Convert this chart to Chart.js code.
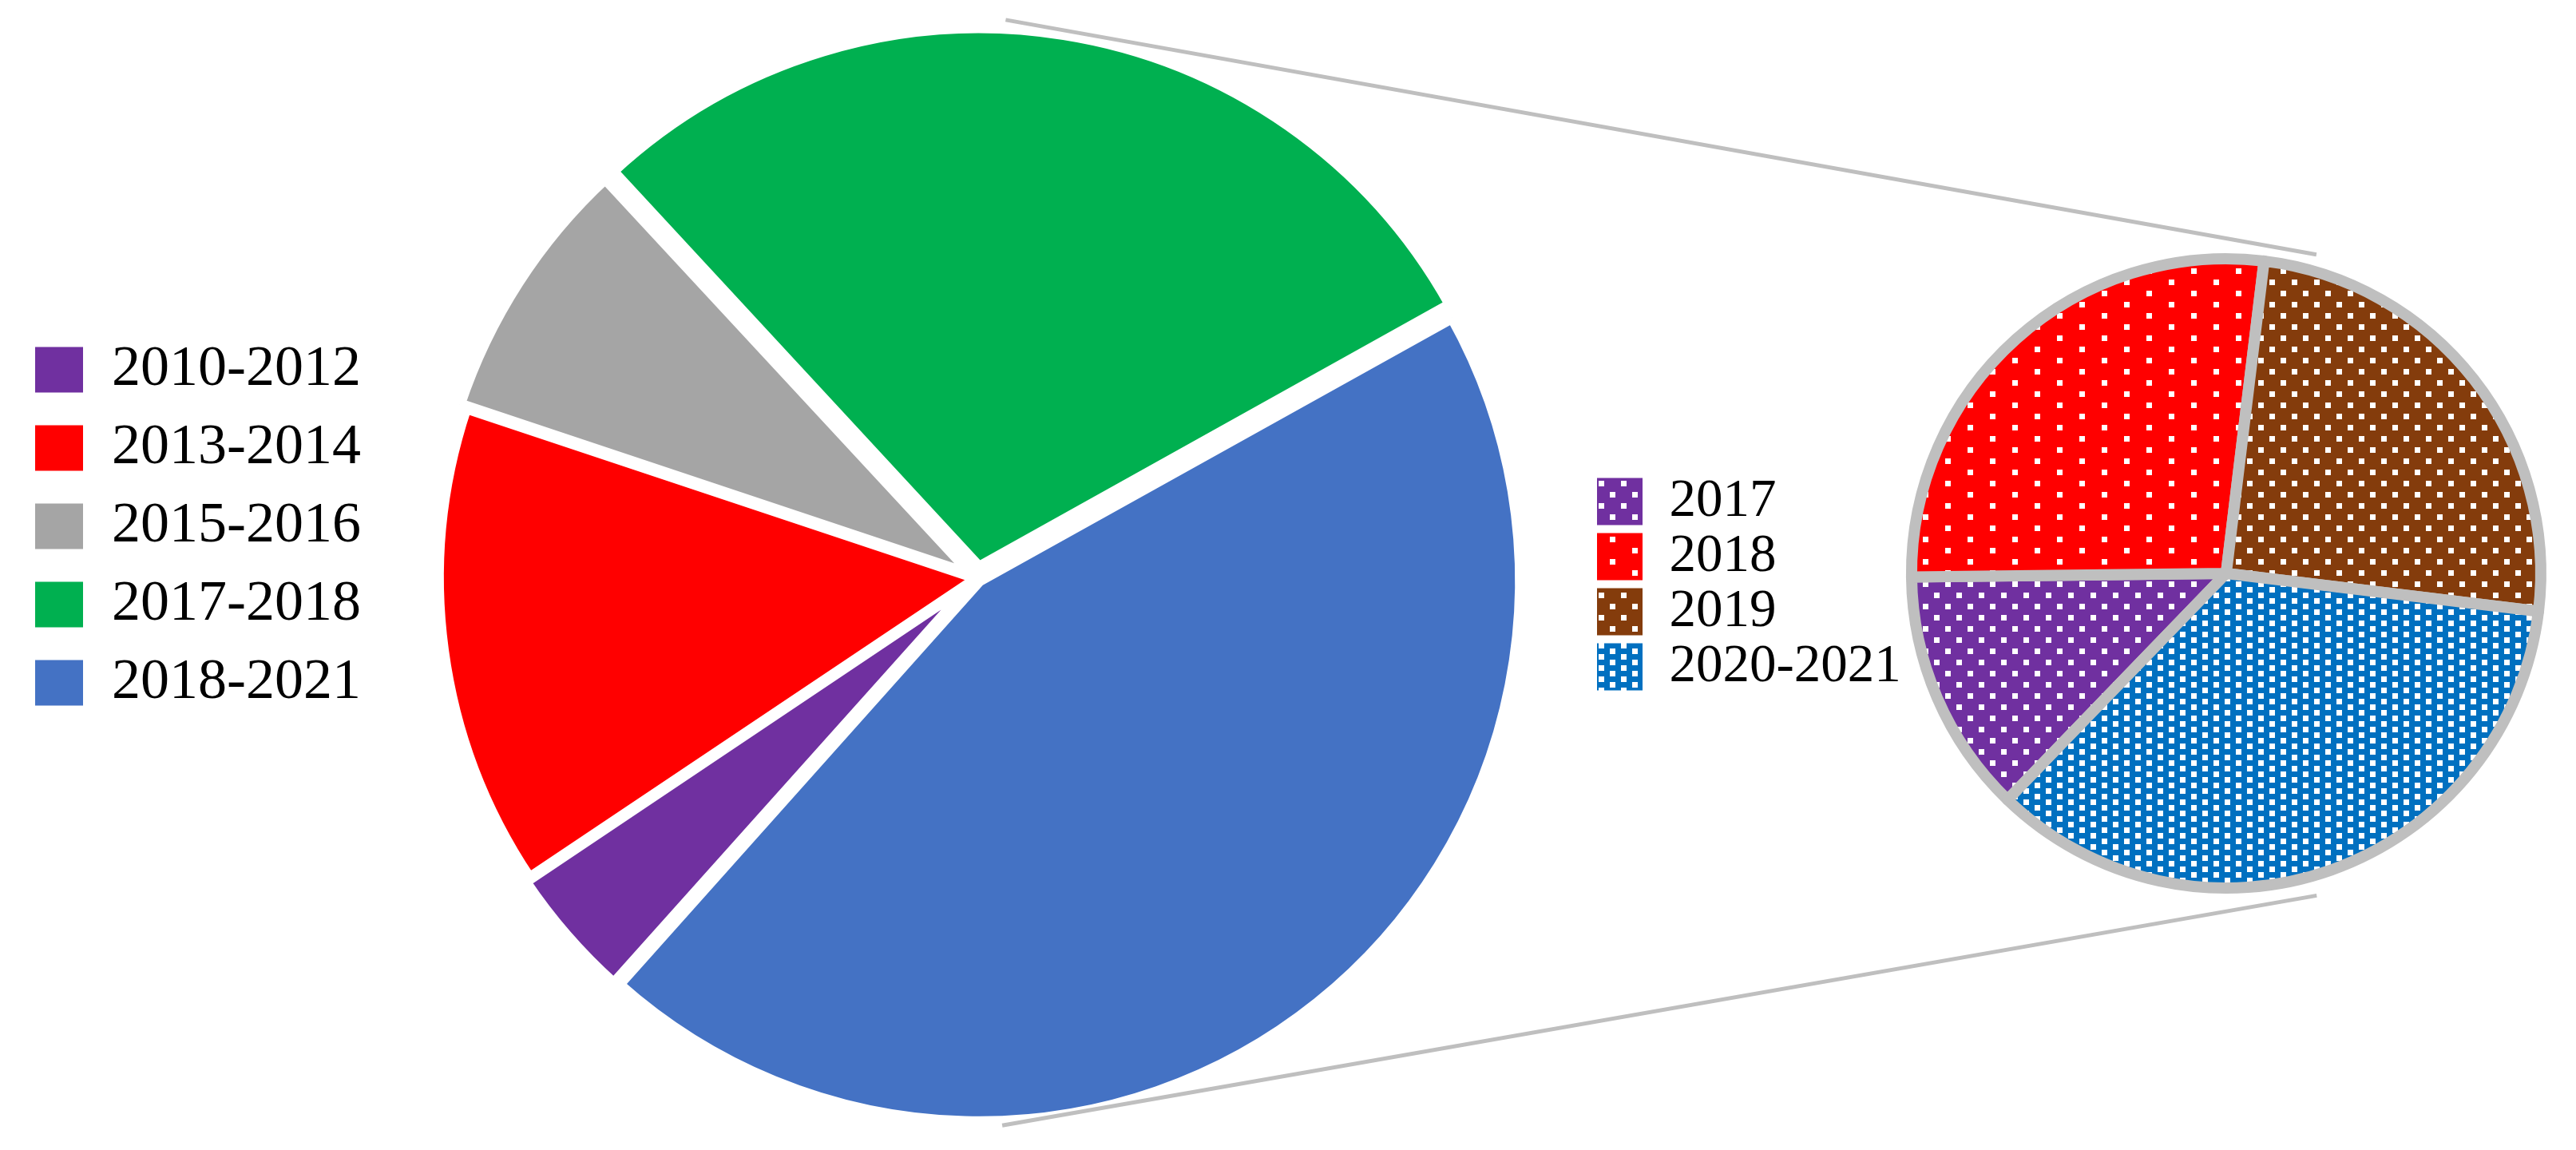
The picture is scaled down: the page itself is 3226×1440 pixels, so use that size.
<!DOCTYPE html>
<html>
<head>
<meta charset="utf-8">
<script src="https://cdn.jsdelivr.net/npm/chart.js@4"></script>
<style>
  html, body { margin: 0; padding: 0; background: #fff; }
  #wrap { position: relative; width: 3226px; height: 1440px; }
  #wrap canvas { position: absolute; left: 0; top: 0; }
</style>
</head>
<body>
<div id="wrap">
  <canvas id="mainPie" width="3226" height="1440"></canvas>
  <canvas id="detailPie" width="3226" height="1440"></canvas>
</div>
<script>
// main pie: periods
const periodLabels = ['2010-2012', '2013-2014', '2015-2016', '2017-2018', '2018-2021'];
const periodValues = [4, 14.5, 8, 28.8, 44.7];
const periodColors = ['#7030A0', '#FF0000', '#A5A5A5', '#00B050', '#4472C4'];
const periodOffsets = [16, 0, 24, 56, 16]; // exploded slices

// detail pie: recent years
const yearLabels = ['2017', '2018', '2019', '2020-2021'];
const yearValues = [12.6, 27.1, 25, 35.3];
const yearColors = ['#7030A0', '#FF0000', '#843C0C', '#0070C0'];

// white dotted fills like the office "dotted" patterns
function dotPattern(color, w, h, dots) {
  const tile = document.createElement('canvas');
  tile.width = w;
  tile.height = h;
  const t = tile.getContext('2d');
  t.fillStyle = color;
  t.fillRect(0, 0, w, h);
  t.fillStyle = '#ffffff';
  dots.forEach(([x, y]) => t.fillRect(x, y, 7, 7));
  return t.createPattern(tile, 'repeat');
}

const yearFills = [
  dotPattern(yearColors[0], 28, 28, [[0, 0], [14, 14]]),
  dotPattern(yearColors[1], 56, 28, [[0, 0], [28, 14]]),
  dotPattern(yearColors[2], 28, 28, [[0, 0], [14, 14]]),
  dotPattern(yearColors[3], 28, 14, [[0, 0], [14, 7]])
];

// legend boxes without the slice border
function legendItems(chart) {
  const ds = chart.data.datasets[0];
  return chart.data.labels.map((text, i) => ({
    text: text,
    fillStyle: ds.backgroundColor[i],
    strokeStyle: 'rgba(0,0,0,0)',
    lineWidth: 0,
    fontColor: '#000',
    hidden: false,
    index: i
  }));
}

const mainChart = new Chart(document.getElementById('mainPie'), {
  type: 'pie',
  data: {
    labels: periodLabels,
    datasets: [{
      data: periodValues,
      backgroundColor: periodColors,
      borderColor: '#ffffff',
      borderWidth: 14,
      offset: periodOffsets,
      rotation: 221.8,
      radius: 675
    }]
  },
  options: {
    responsive: false,
    animation: false,
    events: [],
    layout: { padding: { left: 18, right: 1240, top: 8, bottom: 0 } },
    plugins: {
      tooltip: { enabled: false },
      legend: {
        position: 'left',
        align: 'start',
        title: { display: true, text: '', padding: { top: 392, bottom: 0 }, font: { size: 1, lineHeight: 1 } },
        labels: {
          boxWidth: 60,
          boxHeight: 57,
          padding: 26,
          color: '#000',
          font: { family: 'Liberation Serif', size: 72 },
          generateLabels: legendItems
        }
      }
    }
  }
});

// grey lines joining the two pies
const connectorLines = {
  id: 'connectorLines',
  afterDraw(chart) {
    const big = mainChart.getDatasetMeta(0).data[0];
    const small = chart.getDatasetMeta(0).data[0];
    const at = (arc, deg, extra) => {
      const a = deg * Math.PI / 180;
      const r = arc.outerRadius + extra;
      return [arc.x + r * Math.sin(a), arc.y - r * Math.cos(a)];
    };
    const ctx = chart.ctx;
    ctx.save();
    ctx.strokeStyle = '#BFBFBF';
    ctx.lineWidth = 5;
    [[at(big, 2.9, 25), at(small, 15.8, 21)], [at(big, 177.4, 11), at(small, 164.3, 25)]].forEach(([a, b]) => {
      ctx.beginPath();
      ctx.moveTo(a[0], a[1]);
      ctx.lineTo(b[0], b[1]);
      ctx.stroke();
    });
    ctx.restore();
  }
};

const detailChart = new Chart(document.getElementById('detailPie'), {
  type: 'pie',
  data: {
    labels: yearLabels,
    datasets: [{
      data: yearValues,
      backgroundColor: yearFills,
      borderColor: '#BFBFBF',
      borderWidth: 14,
      borderJoinStyle: 'round',
      rotation: 224,
      radius: 394
    }]
  },
  options: {
    responsive: false,
    animation: false,
    events: [],
    layout: { padding: { left: 1998, right: 41, top: 0, bottom: 4 } },
    plugins: {
      tooltip: { enabled: false },
      legend: {
        position: 'left',
        align: 'start',
        title: { display: true, text: '', padding: { top: 591.5, bottom: 0 }, font: { size: 1, lineHeight: 1 } },
        labels: {
          boxWidth: 57,
          boxHeight: 59,
          padding: 2,
          color: '#000',
          font: { family: 'Liberation Serif', size: 67 },
          generateLabels: legendItems
        }
      }
    }
  },
  plugins: [connectorLines]
});
</script>
</body>
</html>
